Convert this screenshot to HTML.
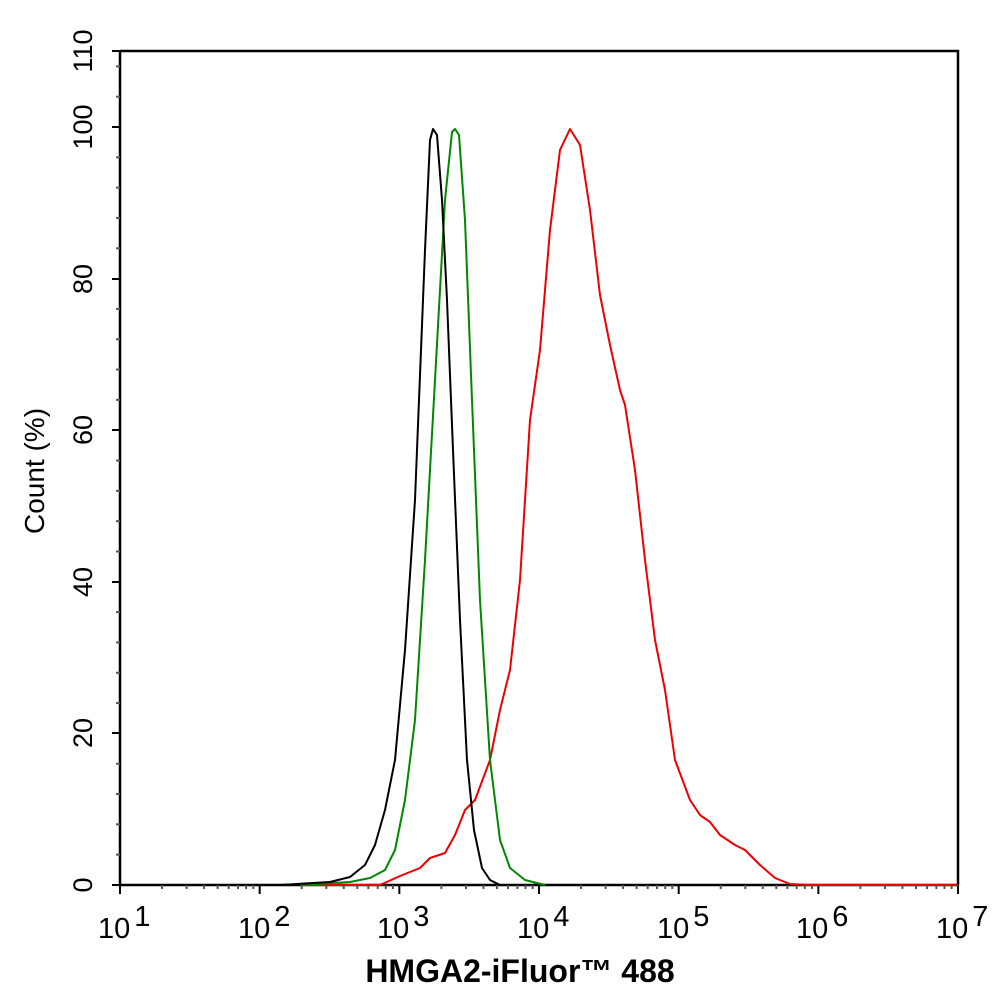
<!DOCTYPE html><html><head><style>body{margin:0;background:#fff}</style></head><body>
<svg width="994" height="1002" xmlns="http://www.w3.org/2000/svg" font-family="Liberation Sans, Arial, sans-serif">
<rect width="994" height="1002" fill="#fff"/>
<g stroke="#000" stroke-width="2.5" fill="none">
<path d="M120,51 H958 V885 M120,51 V885 H958"/>
</g>
<g id="yt" stroke="#000" stroke-width="2">
<line x1="112" y1="885" x2="120" y2="885"/><line x1="112" y1="733" x2="120" y2="733"/><line x1="112" y1="582" x2="120" y2="582"/><line x1="112" y1="430" x2="120" y2="430"/><line x1="112" y1="279" x2="120" y2="279"/><line x1="112" y1="127" x2="120" y2="127"/><line x1="112" y1="51" x2="120" y2="51"/>
</g>
<g stroke="#555" stroke-width="2" id="ym"></g>
<g stroke="#000" stroke-width="2" id="xt"></g>
<g stroke="#555" stroke-width="2" id="xm"></g>
<script>
var ym=document.getElementById('ym'),xm=document.getElementById('xm'),xt=document.getElementById('xt');
function L(g,a,b,c,d){var l=document.createElementNS('http://www.w3.org/2000/svg','line');l.setAttribute('x1',a);l.setAttribute('y1',b);l.setAttribute('x2',c);l.setAttribute('y2',d);g.appendChild(l);}
for(var v=4;v<110;v+=4){if(v%20==0)continue;var y=885-v*7.58;L(ym,116,y,120,y);}
for(var d=0;d<6;d++){for(var k=2;k<10;k++){var x=120+(d+Math.log10(k))*139.67;L(xm,x,885,x,889);}}
for(var d=0;d<=6;d++){var x=120+d*139.67;L(xt,x,885,x,894);}
</script>
<g font-size="29">
<text x="98" y="938">10<tspan dx="4" dy="-12">1</tspan></text>
<text x="238" y="938">10<tspan dx="4" dy="-12">2</tspan></text>
<text x="377" y="938">10<tspan dx="4" dy="-12">3</tspan></text>
<text x="517" y="938">10<tspan dx="4" dy="-12">4</tspan></text>
<text x="657" y="938">10<tspan dx="4" dy="-12">5</tspan></text>
<text x="796" y="938">10<tspan dx="4" dy="-12">6</tspan></text>
<text x="936" y="938">10<tspan dx="4" dy="-12">7</tspan></text>
</g>
<g font-size="27" text-anchor="middle">
<text transform="translate(92,885) rotate(-90)">0</text>
<text transform="translate(92,733) rotate(-90)">20</text>
<text transform="translate(92,582) rotate(-90)">40</text>
<text transform="translate(92,430) rotate(-90)">60</text>
<text transform="translate(92,279) rotate(-90)">80</text>
<text transform="translate(92,127) rotate(-90)">100</text>
<text transform="translate(92,51) rotate(-90)">110</text>
<text transform="translate(44,471) rotate(-90)" font-size="28">Count  (%)</text>
</g>
<text x="520" y="982" font-size="32" font-weight="bold" text-anchor="middle">HMGA2-iFluor™ 488</text>
<g fill="none" stroke-width="2" stroke-linejoin="round">
<polyline stroke="#e00" points="300,885 380,885 400,876 420,868 430,858 445,853 455,835 465,810 475,800 490,760 500,710 510,670 520,580 530,420 540,350 550,230 560,150 570,129 580,145 590,210 600,295 610,345 620,390 625,405 635,470 645,560 655,640 665,690 675,760 690,800 700,815 710,822 720,835 735,845 745,850 760,865 775,878 790,884 810,885 958,885"/>
<polyline stroke="#080" points="300,885 350,882 370,878 385,870 395,850 405,800 415,720 425,560 435,380 445,200 452,132 455,129 459,135 465,220 472,400 480,600 490,760 500,840 510,868 525,880 545,885"/>
<polyline stroke="#000" points="280,885 330,882 350,877 365,865 375,845 385,810 395,760 405,650 415,500 425,250 430,140 433,129 437,135 442,200 447,300 453,450 460,620 467,760 474,830 482,868 490,880 500,885"/>
</g>
</svg>
</body></html>
